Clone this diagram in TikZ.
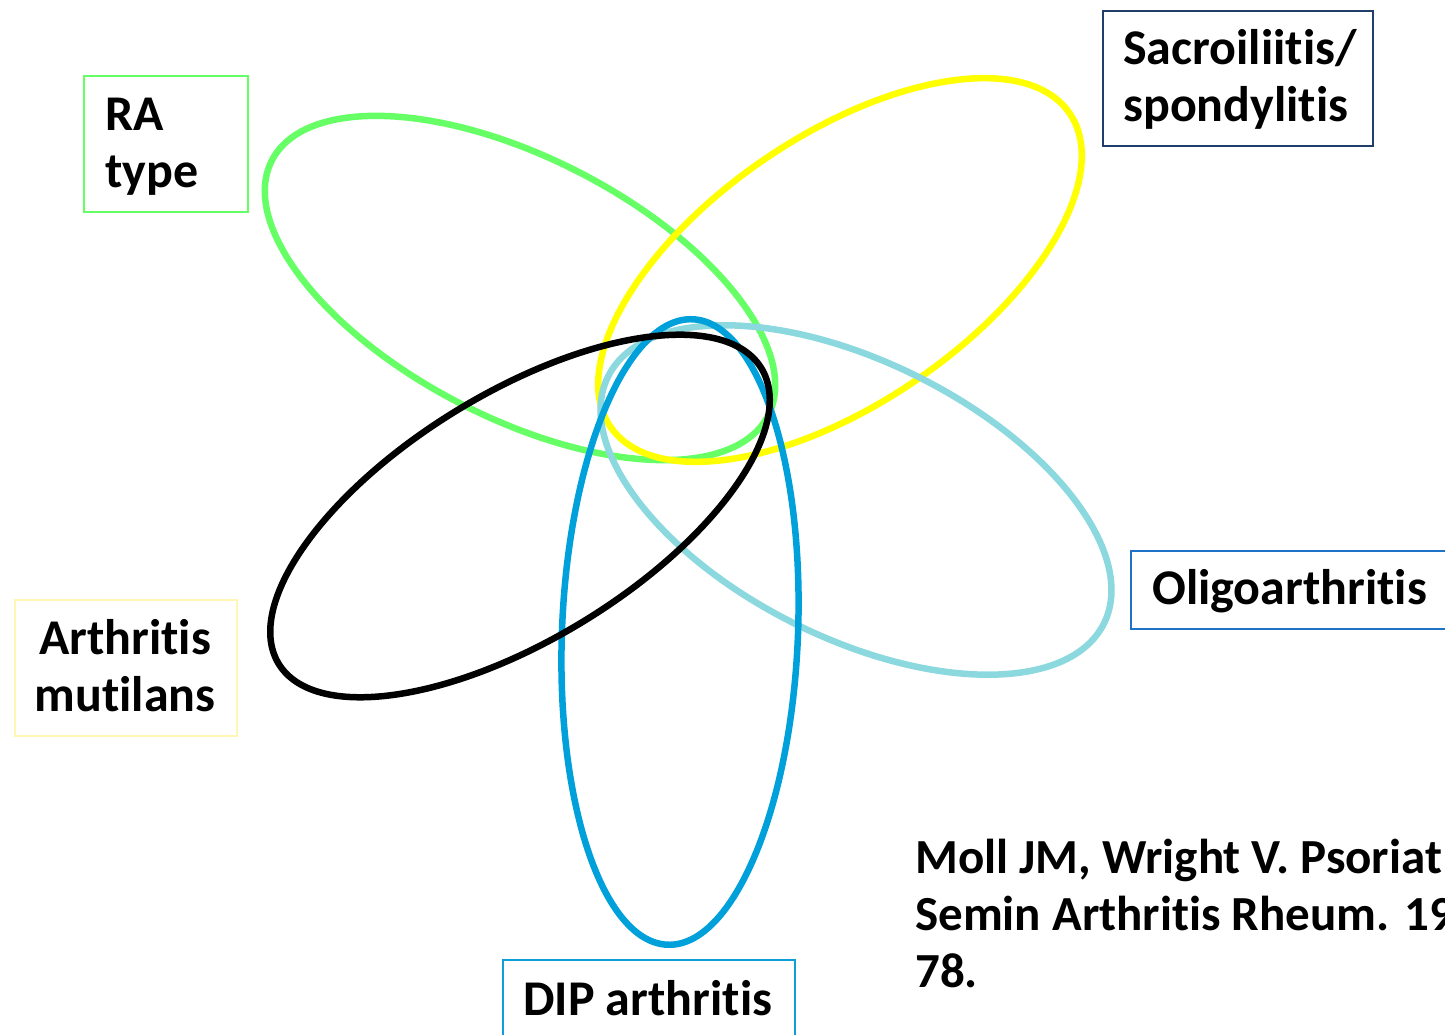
\documentclass[tikz,border=0pt]{standalone}
\usepackage{fontspec}
\setmainfont{Carlito}[Ligatures=NoCommon]
\definecolor{cgreen}{HTML}{66FF66}
\definecolor{cyellow}{HTML}{FFFF00}
\definecolor{cteal}{HTML}{8BD8DE}
\definecolor{cblue}{HTML}{00A0DA}
\definecolor{bgreen}{HTML}{66FF66}
\definecolor{bnavy}{HTML}{1F3F6A}
\definecolor{bblue}{HTML}{1F72C6}
\definecolor{bpale}{HTML}{FFF5B5}
\definecolor{bdip}{HTML}{0E9ED8}
\tikzset{
  ring/.style={line width=6.5pt},
  labbox/.style={line width=2pt, inner sep=0pt, anchor=north west},
  lbl/.style={font=\bfseries\fontsize{50}{57}\selectfont, inner sep=0pt, align=left},
  lblc/.style={font=\bfseries\fontsize{50}{57}\selectfont, inner sep=0pt, align=center},
  cite/.style={font=\bfseries\fontsize{49}{57}\selectfont, inner sep=0pt, anchor=base west}
}
\begin{document}
\begin{tikzpicture}[x=1pt,y=1pt]
\useasboundingbox (0,0) rectangle (1445,1034);
\clip (0,0) rectangle (1445,1034);
% ellipses
\draw[ring, cgreen, rotate around={-27.2:(520,746)}] (520,746) ellipse (279 and 130);
\draw[ring, cyellow, rotate around={34.3:(840,764)}] (840,764) ellipse (278 and 134);
\draw[ring, cteal, rotate around={-26.5:(856,534)}] (856,534) ellipse (277 and 138);
\draw[ring, cblue, rotate around={-2.3:(680,402)}] (680,402) ellipse (118 and 313);
\draw[ring, black, rotate around={31.5:(520,518)}] (520,518) ellipse (283 and 123);
% boxes
\node[labbox, draw=bgreen, minimum width=164pt, minimum height=136pt] (rabox) at (83,959) {};
\node[labbox, draw=bnavy, minimum width=270pt, minimum height=135pt] (sacbox) at (1102,1024) {};
\node[labbox, draw=bblue, minimum width=340pt, minimum height=78pt] (oligobox) at (1130,484) {};
\node[labbox, draw=bpale, minimum width=222pt, minimum height=136pt] (mutbox) at (14,435) {};
\node[labbox, draw=bdip, minimum width=292pt, minimum height=100pt] (dipbox) at (502,75) {};
% labels (base anchor = baseline of last line)
\node[lbl, anchor=base west] (ra) at (105,846) {RA\\type};
\node[lbl, anchor=base west] (sac) at (1123,912) {Sacroiliitis/\\spondylitis};
\node[lbl, anchor=base west] (oligo) at (1152,429) {Oligoarthritis};
\node[lblc, anchor=base] (mut) at (125,322) {Arthritis\\mutilans};
\node[lbl, anchor=base west] (dip) at (523,19) {DIP arthritis};
% citation
\node[cite] (c1) at (915,161) {Moll JM, Wright V. Psoriat};
\node[cite] (c2) at (915,104) {Semin Arthritis Rheum. 19};
\node[cite] (c3) at (915,47) {78.};
\end{tikzpicture}
\end{document}
